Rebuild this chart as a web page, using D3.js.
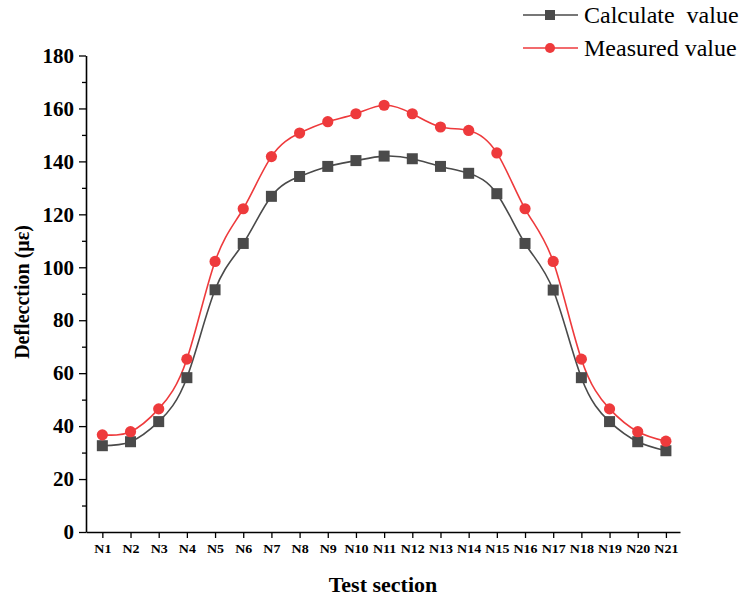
<!DOCTYPE html>
<html>
<head>
<meta charset="utf-8">
<script src="https://cdn.jsdelivr.net/npm/d3@7/dist/d3.min.js"></script>
<style>
  html, body { margin: 0; padding: 0; background: #fff; }
  svg { display: block; }
  text { font-family: "Liberation Serif", "Times New Roman", serif; }
</style>
</head>
<body>
<script>
const categories = ["N1","N2","N3","N4","N5","N6","N7","N8","N9","N10","N11","N12","N13","N14","N15","N16","N17","N18","N19","N20","N21"];
const calculated = [32.6,34.1,41.7,58.3,91.5,109,126.8,134.3,138.1,140.3,142,141,138.1,135.5,127.8,109,91.4,58.3,41.7,34.1,30.7];
const measured = [36.7,37.9,46.5,65.3,102.2,122.1,141.8,150.7,155,158,161.2,158,153,151.7,143.2,122.1,102.2,65.3,46.5,37.9,34.3];
const yTicks = [0,20,40,60,80,100,120,140,160,180];
const seriesNames = ["Calculate  value", "Measured value"];

const W = 745, H = 598;
const svg = d3.select("body").append("svg").attr("width", W).attr("height", H);

const x = d3.scaleLinear().domain([-0.58, 20.5]).range([86, 680]);
const y = d3.scaleLinear().domain([0, 180]).range([532, 55.5]);

const serif = "Liberation Serif, Times New Roman, serif";
const grey = "#4a4a4a", red = "#ee3a3c";

// axes
const xAxis = d3.axisBottom(x).tickValues(d3.range(categories.length))
  .tickFormat(i => categories[i]).tickSize(6).tickSizeOuter(0);
const gx = svg.append("g").attr("transform", "translate(0,532)").call(xAxis);
gx.attr("font-family", null).attr("font-size", null);
gx.select(".domain").attr("stroke", "#000").attr("stroke-width", 1.6);
gx.selectAll(".tick line").attr("stroke", "#000").attr("stroke-width", 1.3);
gx.selectAll(".tick text").style("font-family", serif).style("font-weight", "bold")
  .style("font-size", "14px").attr("fill", "#000").attr("y", 11).attr("dy", "0.8em")
  .attr("transform", "scale(1,0.85)").attr("transform-origin", "0 12");

const yAxisMinor = d3.axisLeft(y).tickValues(d3.range(10, 180, 20)).tickSize(4).tickFormat("").tickSizeOuter(0);
const gym = svg.append("g").attr("transform", "translate(86,0)").call(yAxisMinor);
gym.select(".domain").remove();
gym.selectAll(".tick line").attr("stroke", "#000").attr("stroke-width", 1.3);

const yAxis = d3.axisLeft(y).tickValues(yTicks).tickSize(7).tickSizeOuter(0).tickPadding(5);
const gy = svg.append("g").attr("transform", "translate(86,0)").call(yAxis);
gy.attr("font-family", null).attr("font-size", null);
gy.select(".domain").attr("stroke", "#000").attr("stroke-width", 1.6);
gy.selectAll(".tick line").attr("stroke", "#000").attr("stroke-width", 1.3);
gy.selectAll(".tick text").style("font-family", serif).style("font-weight", "bold")
  .style("font-size", "21px").attr("fill", "#000");

// axis titles
svg.append("text").attr("x", 383).attr("y", 592).attr("text-anchor", "middle")
  .style("font-family", serif).style("font-weight", "bold").style("font-size", "22px")
  .attr("fill", "#000").text("Test section");
svg.append("text").attr("transform", "translate(29,292) rotate(-90)").attr("text-anchor", "middle")
  .style("font-family", serif).style("font-weight", "bold").style("font-size", "20px")
  .attr("fill", "#000").text("Deflecction (με)");

// lines
const line = d3.line().x((d, i) => x(i)).y(d => y(d)).curve(d3.curveNatural);
svg.append("path").datum(calculated).attr("d", line).attr("fill", "none")
  .attr("stroke", grey).attr("stroke-width", 1.6);
svg.append("path").datum(measured).attr("d", line).attr("fill", "none")
  .attr("stroke", red).attr("stroke-width", 1.6);

// markers
svg.append("g").selectAll("rect").data(calculated).join("rect")
  .attr("x", (d, i) => x(i) - 5.5).attr("y", d => y(d) - 5.5)
  .attr("width", 11).attr("height", 11).attr("fill", grey);
svg.append("g").selectAll("circle").data(measured).join("circle")
  .attr("cx", (d, i) => x(i)).attr("cy", d => y(d)).attr("r", 5.6).attr("fill", red);

// legend
const leg = svg.append("g");
[0, 1].forEach(k => {
  const ly = k === 0 ? 15 : 48;
  const col = k === 0 ? grey : red;
  leg.append("line").attr("x1", 523).attr("x2", 578).attr("y1", ly).attr("y2", ly)
    .attr("stroke", col).attr("stroke-width", 1.6);
  if (k === 0) {
    leg.append("rect").attr("x", 545).attr("y", ly - 5).attr("width", 10).attr("height", 10).attr("fill", col);
  } else {
    leg.append("circle").attr("cx", 550).attr("cy", ly).attr("r", 5).attr("fill", col);
  }
  leg.append("text").attr("x", 584).attr("y", ly + 8)
    .style("font-family", serif).style("font-size", "24px").style("white-space", "pre")
    .attr("fill", "#000").text(seriesNames[k]);
});
</script>
</body>
</html>
